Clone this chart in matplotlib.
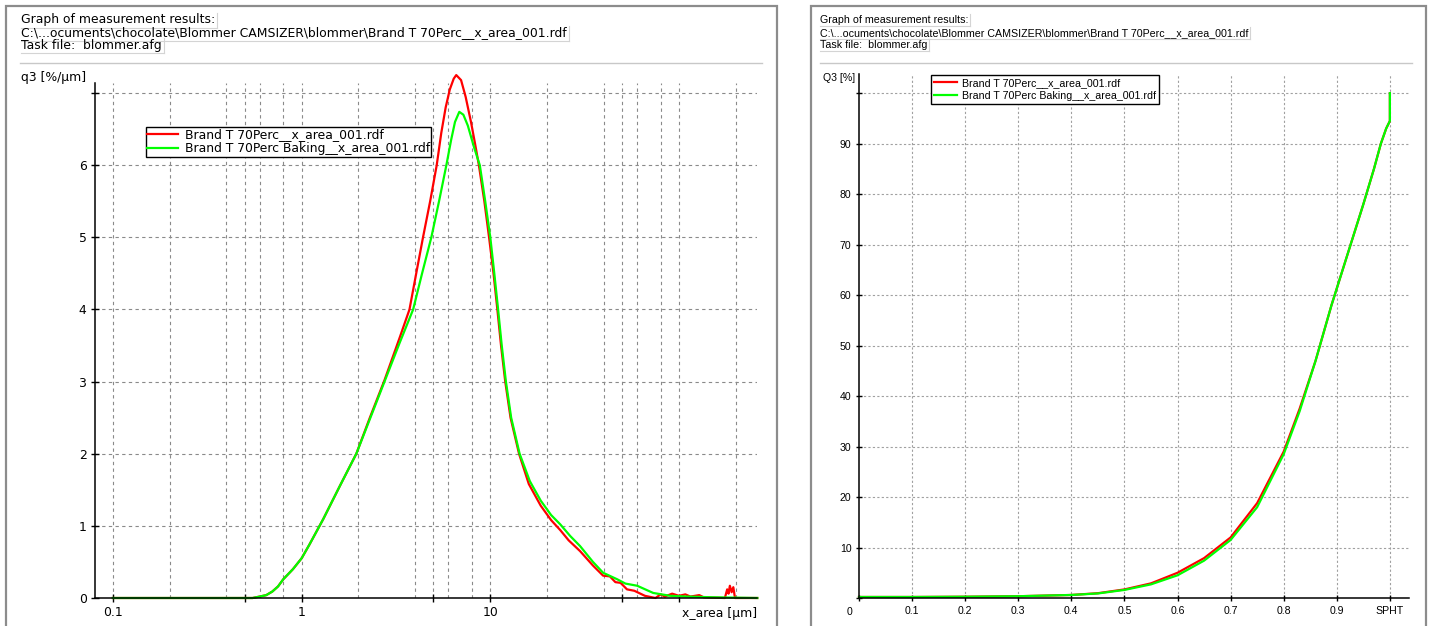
import numpy as np
import matplotlib
matplotlib.use('Agg')
import matplotlib.pyplot as plt
from matplotlib.patches import Rectangle
from matplotlib.lines import Line2D
from matplotlib.font_manager import FontProperties

plt.rcParams['font.family'] = ['Liberation Sans', 'DejaVu Sans']

W, H = 1430, 626

# ---- data: particle size density q3 (left) ----
size_red = [0.1, 0.55, 0.6, 0.65, 0.7, 0.75, 0.8, 0.9, 1.0, 1.1, 1.3, 1.6, 1.95, 2.3, 2.75,
            3.3, 3.73, 4.05, 4.4, 4.8, 5.2, 5.5, 5.8, 6.1, 6.4, 6.6, 7.0, 7.4, 7.9, 8.3,
            8.7, 9.3, 9.85, 10.4, 10.9, 11.4, 12.0, 12.8, 14.2, 16.0, 18.5, 21.0, 23.5,
            26.0, 29.9, 35.0, 39.6, 43.0, 46.0, 49.0, 53.0, 58.0, 66.0, 75.0, 80.0, 84.0,
            92.0, 100.0, 108.0, 115.0, 128.0, 135.0, 175.0, 180.0, 183.0, 186.0, 190.0,
            194.0, 198.0, 260.0]
q3_red = [0.0, 0.0, 0.02, 0.04, 0.09, 0.16, 0.26, 0.4, 0.55, 0.74, 1.09, 1.56, 2.0, 2.5, 3.02,
          3.6, 4.0, 4.5, 5.0, 5.5, 6.0, 6.45, 6.8, 7.05, 7.2, 7.25, 7.18, 6.95, 6.6, 6.3,
          6.0, 5.5, 5.0, 4.5, 4.0, 3.5, 3.0, 2.5, 2.0, 1.58, 1.28, 1.08, 0.94,
          0.8, 0.65, 0.45, 0.31, 0.3, 0.22, 0.21, 0.12, 0.1, 0.03, 0.0, 0.05, 0.02,
          0.06, 0.03, 0.05, 0.02, 0.04, 0.01, 0.0, 0.12, 0.06, 0.17, 0.08,
          0.15, 0.0, 0.0]

size_green = [0.1, 0.55, 0.6, 0.65, 0.7, 0.75, 0.8, 0.9, 1.0, 1.1, 1.3, 1.6, 1.95, 2.3, 2.75,
              3.3, 3.9, 4.35, 4.87, 5.35, 5.85, 6.2, 6.5, 6.85, 7.2, 7.6, 8.2, 8.8, 9.4,
              10.0, 10.5, 11.0, 11.5, 12.1, 12.9, 14.3, 16.2, 18.5, 21.0, 23.5, 26.5, 29.9,
              35.0, 39.6, 47.0, 52.0, 60.0, 73.0, 90.0, 110.0, 150.0, 260.0]
q3_green = [0.0, 0.0, 0.02, 0.04, 0.09, 0.16, 0.26, 0.4, 0.55, 0.74, 1.09, 1.56, 2.0, 2.48, 3.0,
            3.53, 4.0, 4.5, 5.0, 5.5, 6.0, 6.35, 6.6, 6.74, 6.7, 6.55, 6.25, 6.0, 5.5,
            5.0, 4.5, 4.0, 3.5, 3.0, 2.5, 2.0, 1.62, 1.35, 1.15, 1.02, 0.86, 0.72,
            0.5, 0.35, 0.26, 0.2, 0.17, 0.07, 0.03, 0.02, 0.01, 0.0]

# ---- data: cumulative Q3 over sphericity (right) ----
spht_red = [0.0, 0.1, 0.2, 0.3, 0.4, 0.45, 0.5, 0.55, 0.6, 0.65, 0.7, 0.75, 0.8, 0.83,
            0.86, 0.89, 0.92, 0.95, 0.96, 0.97, 0.983, 0.993, 1.0, 1.0]
Q3_red = [0.2, 0.2, 0.25, 0.35, 0.6, 0.95, 1.7, 2.9, 5.0, 7.9, 12.0, 18.8, 29.0, 37.5,
          47.0, 58.0, 68.0, 78.0, 81.5, 85.0, 90.0, 93.0, 94.5, 100.0]
spht_green = [0.0, 0.1, 0.2, 0.3, 0.4, 0.45, 0.5, 0.55, 0.6, 0.65, 0.7, 0.75, 0.8, 0.83,
              0.86, 0.89, 0.92, 0.95, 0.96, 0.97, 0.983, 0.993, 1.0, 1.0]
Q3_green = [0.2, 0.2, 0.25, 0.35, 0.6, 0.9, 1.6, 2.7, 4.5, 7.4, 11.5, 18.0, 28.5, 37.0,
            47.0, 58.0, 68.0, 78.0, 81.5, 85.0, 90.0, 93.0, 94.5, 100.0]

labels = ['Brand T 70Perc__x_area_001.rdf', 'Brand T 70Perc Baking__x_area_001.rdf']
header_path = r'C:\...ocuments\chocolate\Blommer CAMSIZER\blommer\Brand T 70Perc__x_area_001.rdf'
header_lines = ['Graph of measurement results:', header_path, 'Task file:  blommer.afg']

left_grid_x = [m * 10.0 ** e for e in (-1, 0, 1) for m in (1, 2, 4, 5, 6, 8)] + [100, 200]
RED = '#ff0000'
GREEN = '#00ff00'

# left screenshot is wider-spaced than the right one
LF = dict(family='DejaVu Sans', size=8.9)
RF = dict(family='Liberation Sans', size=7.65)


def fx(x):
    return x / W


def fy(y):
    return 1 - y / H


fig = plt.figure(figsize=(W / 100, H / 100), dpi=100)

# panel frames and header separators
for x0, x1 in ((6, 777), (811, 1426)):
    fig.add_artist(Rectangle((fx(x0), fy(660)), fx(x1 - x0), (660 - 6) / H,
                             fill=False, edgecolor='#8c8c8c', linewidth=1.6,
                             transform=fig.transFigure))
fig.add_artist(Line2D([fx(20), fx(762)], [fy(63), fy(63)], color='#c8c8c8', lw=1))
fig.add_artist(Line2D([fx(820), fx(1412)], [fy(63), fy(63)], color='#c8c8c8', lw=1))

# header texts
header_texts = []
for x0, fp in ((21, LF), (820, RF)):
    for s, yy in zip(header_lines, (20, 33, 45)):
        t = fig.text(fx(x0), fy(yy), s, fontproperties=FontProperties(**fp), va='center')
        header_texts.append(t)

# ---- left chart ----
ax1 = fig.add_axes([fx(95), fy(598), fx(757 - 95), (598 - 83) / H])
ax1.set_xscale('log')
ax1.set_xlim(0.0804, 259)
ax1.set_ylim(0, 7.14)
for gx in left_grid_x:
    ax1.axvline(gx, color='#8a8a8a', lw=0.8, ls=(0, (3, 3)), zorder=0)
for gy in range(1, 8):
    ax1.axhline(gy, color='#8a8a8a', lw=0.8, ls=(0, (3, 3)), zorder=0)
ax1.plot(size_red, q3_red, color=RED, lw=1.6, label=labels[0], clip_on=False)
ax1.plot(size_green, q3_green, color=GREEN, lw=1.6, label=labels[1], clip_on=False)
ax1.set_xticks([0.1, 1, 10, 100])
ax1.set_xticklabels(['0.1', '1', '10', ''])
ax1.set_xticks([0.5, 5, 50], minor=True)
ax1.set_xticklabels([], minor=True)
ax1.set_yticks(range(0, 8))
ax1.set_yticklabels([str(i) for i in range(0, 7)] + [''])
ax1.tick_params(axis='both', which='both', direction='inout', length=6, width=1, pad=3)
for lab in ax1.get_xticklabels() + ax1.get_yticklabels():
    lab.set_fontproperties(FontProperties(**LF))
ax1.text(1.0, -0.018, 'x_area [µm]', transform=ax1.transAxes, ha='right', va='top',
         fontproperties=FontProperties(**LF))
ax1.text(fx(86), fy(78), 'q3 [%/µm]', transform=fig.transFigure, ha='right',
         va='center', fontproperties=FontProperties(**LF))

# ---- right chart ----
ax2 = fig.add_axes([fx(859), fy(598), fx(1409 - 859), (598 - 74) / H])
ax2.set_xlim(0, 1.036)
ax2.set_ylim(0, 103.8)
for gx in np.arange(1, 11) / 10:
    ax2.axvline(gx, color='#a0a0a0', lw=0.8, ls=(0, (2, 2)), zorder=0)
for gy in range(10, 101, 10):
    ax2.axhline(gy, color='#a0a0a0', lw=0.8, ls=(0, (2, 2)), zorder=0)
ax2.plot(spht_red, Q3_red, color=RED, lw=1.6, label=labels[0], clip_on=False)
ax2.plot(spht_green, Q3_green, color=GREEN, lw=1.6, label=labels[1], clip_on=False)
xt = np.arange(0, 11) / 10
ax2.set_xticks(xt)
ax2.set_xticklabels([''] + ['%.1f' % v for v in xt[1:-1]] + ['SPHT'])
ax2.set_yticks(range(0, 101, 10))
ax2.set_yticklabels([''] + [str(v) for v in range(10, 100, 10)] + [''])
ax2.tick_params(axis='both', direction='inout', length=5, width=1, labelsize=7.6, pad=3)
ax2.text(-0.0164, -0.018, '0', transform=ax2.transAxes, ha='center', va='top',
         fontsize=7.6)
ax2.text(fx(855), fy(78), 'Q3 [%]', transform=fig.transFigure, ha='right',
         va='center', fontsize=7.6)

for ax in (ax1, ax2):
    ax.spines['top'].set_visible(False)
    ax.spines['right'].set_visible(False)
    ax.spines['left'].set_linewidth(1.1)
    ax.spines['bottom'].set_linewidth(1.1)
    ax.patch.set_alpha(0)

leg_kw = dict(loc='upper left', frameon=True, fancybox=False, framealpha=1,
              edgecolor='black', borderaxespad=0, bbox_transform=fig.transFigure)
l1 = ax1.legend(bbox_to_anchor=(fx(146), fy(127)), prop=FontProperties(**LF),
                handlelength=2.5, handletextpad=0.5, labelspacing=0.05, borderpad=0.12,
                **leg_kw)
l2 = ax2.legend(bbox_to_anchor=(fx(931), fy(75)), prop=FontProperties(**RF),
                handlelength=2.2, handletextpad=0.5, labelspacing=0.3, borderpad=0.25,
                **leg_kw)
for lg in (l1, l2):
    lg.get_frame().set_linewidth(1.0)
    lg.get_frame().set_boxstyle('square', pad=0)

# light field borders (right + bottom) around header lines
fig.canvas.draw()
r = fig.canvas.get_renderer()
for t in header_texts:
    bb = t.get_window_extent(r)
    x1, y0, y1 = bb.x1 + 2, bb.y0 - 1, bb.y1 + 1
    fig.add_artist(Line2D([bb.x0 / W, x1 / W], [y0 / H, y0 / H], color='#d4d4d4', lw=0.8))
    fig.add_artist(Line2D([x1 / W, x1 / W], [y0 / H, y1 / H], color='#d4d4d4', lw=0.8))

fig.savefig('out.png', dpi=100)
